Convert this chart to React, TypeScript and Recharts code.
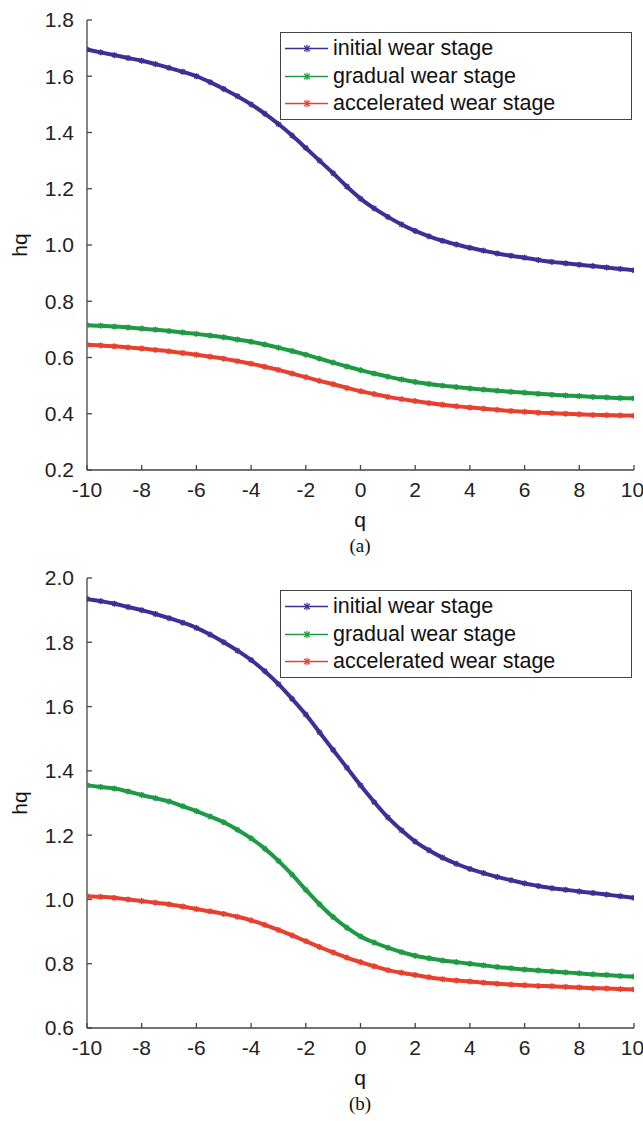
import { LineChart, Line, XAxis, YAxis, Legend } from 'recharts';

const qValues = [
  -10, -9.5, -9, -8.5, -8, -7.5, -7, -6.5, -6, -5.5, -5, -4.5, -4, -3.5, -3, -2.5, -2, -1.5, -1, -0.5,
  0, 0.5, 1, 1.5, 2, 2.5, 3, 3.5, 4, 4.5, 5, 5.5, 6, 6.5, 7, 7.5, 8, 8.5, 9, 9.5, 10,
];

// panel (a)
const initialA = [
  1.695, 1.685, 1.675, 1.665, 1.655, 1.643, 1.63, 1.616, 1.6, 1.579, 1.555, 1.529, 1.5, 1.467, 1.43, 1.389,
  1.345, 1.3, 1.255, 1.208, 1.165, 1.13, 1.1, 1.073, 1.05, 1.031, 1.015, 1.002, 0.99, 0.98, 0.97, 0.962,
  0.955, 0.947, 0.94, 0.935, 0.93, 0.925, 0.92, 0.915, 0.91,
];
const gradualA = [
  0.715, 0.713, 0.71, 0.707, 0.703, 0.699, 0.694, 0.689, 0.684, 0.678, 0.672, 0.664, 0.656, 0.646, 0.635,
  0.623, 0.61, 0.596, 0.582, 0.568, 0.555, 0.543, 0.532, 0.522, 0.513, 0.506, 0.5, 0.495, 0.49, 0.486,
  0.482, 0.478, 0.475, 0.471, 0.468, 0.465, 0.463, 0.46, 0.458, 0.456, 0.455,
];
const acceleratedA = [
  0.645, 0.643, 0.64, 0.636, 0.632, 0.627, 0.622, 0.616, 0.61, 0.603, 0.596, 0.587, 0.578, 0.567, 0.556,
  0.543, 0.53, 0.517, 0.505, 0.492, 0.48, 0.47, 0.46, 0.452, 0.445, 0.438, 0.432, 0.427, 0.422, 0.418,
  0.414, 0.41, 0.407, 0.404, 0.402, 0.4, 0.398, 0.396, 0.395, 0.394, 0.393,
];

// panel (b)
const initialB = [
  1.935, 1.928, 1.92, 1.91, 1.9, 1.888, 1.875, 1.861, 1.845, 1.824, 1.8, 1.774, 1.745, 1.71, 1.67, 1.624,
  1.575, 1.52, 1.465, 1.41, 1.355, 1.303, 1.255, 1.215, 1.18, 1.153, 1.13, 1.111, 1.095, 1.082, 1.07, 1.06,
  1.05, 1.042, 1.035, 1.03, 1.025, 1.02, 1.015, 1.01, 1.005,
];
const gradualB = [
  1.355, 1.35, 1.345, 1.336, 1.325, 1.315, 1.305, 1.29, 1.275, 1.258, 1.24, 1.217, 1.19, 1.158, 1.12, 1.077,
  1.03, 0.985, 0.945, 0.912, 0.885, 0.866, 0.85, 0.836, 0.825, 0.817, 0.81, 0.805, 0.8, 0.795, 0.79, 0.786,
  0.782, 0.779, 0.776, 0.773, 0.77, 0.767, 0.765, 0.762, 0.76,
];
const acceleratedB = [
  1.01, 1.008, 1.005, 1.0, 0.995, 0.99, 0.985, 0.978, 0.97, 0.963, 0.955, 0.946, 0.935, 0.921, 0.905, 0.888,
  0.87, 0.852, 0.835, 0.819, 0.805, 0.792, 0.78, 0.772, 0.765, 0.758, 0.752, 0.748, 0.745, 0.741, 0.738,
  0.735, 0.733, 0.731, 0.73, 0.728, 0.726, 0.724, 0.723, 0.721, 0.72,
];

const xTicks = [-10, -8, -6, -4, -2, 0, 2, 4, 6, 8, 10];
const yTicksA = [0.2, 0.4, 0.6, 0.8, 1.0, 1.2, 1.4, 1.6, 1.8];
const yTicksB = [0.6, 0.8, 1.0, 1.2, 1.4, 1.6, 1.8, 2.0];

const seriesKeys = ['initial', 'gradual', 'accelerated'];
const seriesNames = ['initial wear stage', 'gradual wear stage', 'accelerated wear stage'];
const colors = ['#3e2f97', '#1f9a44', '#e8402f'];

const sans = '"Liberation Sans", Arial, sans-serif';
const serif = '"Liberation Serif", "Times New Roman", serif';

const buildRows = (a: number[], b: number[], c: number[]) =>
  qValues.map((q, i) => ({ q, initial: a[i], gradual: b[i], accelerated: c[i] }));

const dataA = buildRows(initialA, gradualA, acceleratedA);
const dataB = buildRows(initialB, gradualB, acceleratedB);

const Asterisk = (props: any) => {
  const { cx, cy, stroke, index, r = 5, w = 1.4 } = props;
  if (cx == null || cy == null) return <g key={index} />;
  const d = r * 0.72;
  return (
    <g key={index} stroke={stroke} strokeWidth={w}>
      <line x1={cx - r} y1={cy} x2={cx + r} y2={cy} />
      <line x1={cx} y1={cy - r} x2={cx} y2={cy + r} />
      <line x1={cx - d} y1={cy - d} x2={cx + d} y2={cy + d} />
      <line x1={cx - d} y1={cy + d} x2={cx + d} y2={cy - d} />
    </g>
  );
};

const LegendBox = () => (
  <div
    style={{
      border: '1.3px solid #444',
      background: '#fff',
      padding: '2px 0 1px 0',
      width: 352,
      boxSizing: 'border-box',
      fontFamily: sans,
      fontSize: 21.5,
      color: '#111',
    }}
  >
    {seriesNames.map((name, i) => (
      <div key={name} style={{ display: 'flex', alignItems: 'center', height: 27.5 }}>
        <svg width={52} height={27} style={{ flex: 'none' }}>
          <line x1={4} y1={13.5} x2={47} y2={13.5} stroke={colors[i]} strokeWidth={1.3} />
          <Asterisk cx={26} cy={13.5} stroke={colors[i]} index={0} r={3.8} w={1.2} />
        </svg>
        <span style={{ lineHeight: '27px' }}>{name}</span>
      </div>
    ))}
  </div>
);

const axisColor = '#454545';

const Panel = ({
  data,
  yTicks,
  yDomain,
  caption,
  top,
}: {
  data: any[];
  yTicks: number[];
  yDomain: [number, number];
  caption: string;
  top: number;
}) => (
  <div style={{ position: 'absolute', left: 0, top, width: 643, height: 560 }}>
    <LineChart width={643} height={500} data={data} margin={{ top: 20, right: 9, bottom: 0, left: 27 }}>
      <XAxis
        xAxisId="b"
        dataKey="q"
        type="number"
        domain={[-10, 10]}
        ticks={xTicks}
        allowDataOverflow
        orientation="bottom"
        height={30}
        tickSize={-5}
        tickMargin={17}
        stroke={axisColor}
        strokeWidth={1.3}
        tick={{ fill: '#222', fontSize: 21, fontFamily: sans }}
      />
      <XAxis
        xAxisId="t"
        dataKey="q"
        type="number"
        domain={[-10, 10]}
        ticks={xTicks}
        allowDataOverflow
        orientation="top"
        height={0}
        tickSize={-5}
        tick={false}
        stroke={axisColor}
        strokeWidth={1.3}
      />
      <YAxis
        yAxisId="l"
        type="number"
        domain={yDomain}
        ticks={yTicks}
        allowDataOverflow
        width={60}
        tickSize={-5}
        tickMargin={18}
        stroke={axisColor}
        strokeWidth={1.3}
        tickFormatter={(v: number) => v.toFixed(1)}
        tick={{ fill: '#222', fontSize: 21, fontFamily: sans }}
      />
      <YAxis
        yAxisId="r"
        orientation="right"
        type="number"
        domain={yDomain}
        ticks={yTicks}
        allowDataOverflow
        width={0}
        tickSize={-5}
        tick={false}
        stroke={axisColor}
        strokeWidth={1.3}
      />
      {seriesKeys.map((k, i) => (
        <Line
          key={k}
          xAxisId="b"
          yAxisId="l"
          dataKey={k}
          name={seriesNames[i]}
          type="monotone"
          stroke={colors[i]}
          strokeWidth={4}
          dot={(p: any) => <Asterisk {...p} stroke={colors[i]} />}
          activeDot={false}
          isAnimationActive={false}
        />
      ))}
      <Legend
        layout="vertical"
        align="center"
        verticalAlign="middle"
        content={() => <LegendBox />}
        wrapperStyle={{ left: 280, top: 32, width: 352 }}
      />
    </LineChart>
    <div
      style={{
        position: 'absolute',
        left: 20 - 30,
        top: 245 - 12,
        width: 60,
        lineHeight: '24px',
        textAlign: 'center',
        fontFamily: sans,
        fontSize: 21,
        color: '#111',
        transform: 'rotate(-90deg)',
      }}
    >
      hq
    </div>
    <div
      style={{
        position: 'absolute',
        left: 360 - 30,
        top: 521 - 13,
        width: 60,
        lineHeight: '24px',
        textAlign: 'center',
        fontFamily: sans,
        fontSize: 21,
        color: '#111',
      }}
    >
      q
    </div>
    <div
      style={{
        position: 'absolute',
        left: 360 - 30,
        top: 546 - 12,
        width: 60,
        lineHeight: '24px',
        textAlign: 'center',
        fontFamily: serif,
        fontSize: 19,
        color: '#111',
      }}
    >
      {caption}
    </div>
  </div>
);

export default function App() {
  return (
    <div style={{ position: 'absolute', left: 0, top: 0, width: 643, height: 1121, background: '#fff' }}>
      <Panel data={dataA} yTicks={yTicksA} yDomain={[0.2, 1.8]} caption="(a)" top={0} />
      <Panel data={dataB} yTicks={yTicksB} yDomain={[0.6, 2.0]} caption="(b)" top={558} />
    </div>
  );
}
